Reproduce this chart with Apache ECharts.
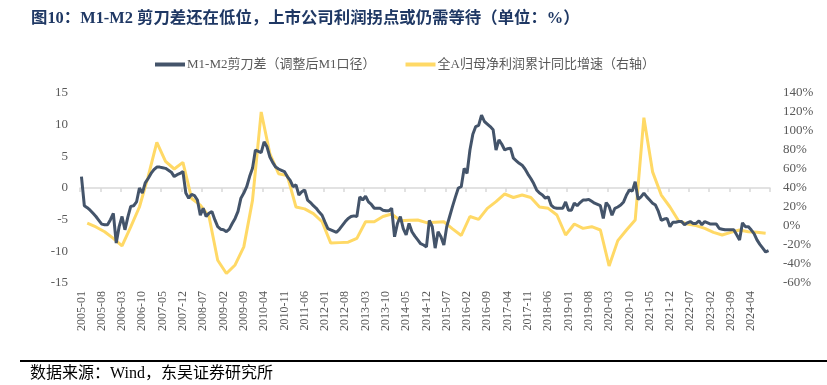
<!DOCTYPE html>
<html>
<head>
<meta charset="utf-8">
<script src="https://cdn.jsdelivr.net/npm/echarts@6/dist/echarts.min.js"></script>
<style>
html,body{margin:0;padding:0;background:#fff;}
#chart{width:827px;height:385px;}
</style>
</head>
<body>
<div id="chart"></div>
<script>
// ---- Data ----
const startYear = 2005;
const monthCount = 238; // 2005-01 .. 2024-10
const categories = [];
for (let i = 0; i < monthCount; i++) {
  const y = startYear + Math.floor(i / 12);
  const m = (i % 12) + 1;
  categories.push(y + '-' + (m < 10 ? '0' + m : m));
}

// M1-M2 scissors gap (adjusted M1), monthly, %
const m1m2Gap = [
  1.8,-2.8,-3.1,-3.5,-4.0,-4.5,-5.1,-5.7,-5.8,-5.8,
  -5.0,-4.0,-8.7,-6.1,-4.5,-6.6,-4.6,-2.9,-2.8,-2.2,
  0.0,-0.8,0.8,1.5,2.3,2.9,3.3,3.3,3.2,3.1,
  2.8,2.5,1.8,2.1,2.3,2.6,-0.8,-1.6,-1.0,-1.2,
  -1.9,-4.3,-3.2,-4.5,-4.0,-3.7,-5.0,-6.1,-6.5,-6.6,
  -6.9,-6.5,-5.6,-4.8,-3.7,-1.6,-0.8,0.2,1.8,3.1,
  6.0,5.8,5.6,7.3,6.5,4.9,4.0,3.3,3.0,2.8,
  2.6,1.8,1.2,0.2,0.5,-1.1,-0.6,-0.3,-1.9,-2.3,
  -2.8,-3.2,-3.8,-4.3,-5.4,-6.4,-6.6,-6.8,-7.0,-6.5,
  -5.9,-5.3,-4.8,-4.5,-4.4,-4.5,-1.4,-1.9,-1.3,-2.2,
  -2.6,-3.2,-3.2,-3.2,-3.5,-3.6,-3.6,-3.2,-7.7,-5.6,
  -4.5,-6.4,-7.4,-5.6,-6.9,-7.6,-8.2,-8.8,-9.0,-9.3,
  -5.1,-6.1,-9.5,-6.9,-7.7,-9.0,-6.1,-4.5,-2.9,-1.4,
  0.0,0.2,3.1,2.3,6.0,8.5,9.7,9.9,11.5,10.5,
  10.1,9.7,9.2,6.0,7.6,6.9,6.0,6.2,6.3,4.7,
  4.3,3.9,3.6,3.0,2.2,1.5,0.7,-0.3,-0.8,-1.1,
  -1.6,-1.4,-2.7,-3.1,-3.2,-3.2,-3.2,-2.2,-3.5,-3.5,
  -2.4,-2.8,-2.3,-1.9,-1.9,-1.8,-2.1,-2.4,-2.6,-2.8,
  -4.8,-2.3,-2.9,-4.3,-3.2,-3.0,-2.7,-2.2,-1.1,-0.3,
  -0.5,1.0,-1.8,-1.4,-0.8,-1.4,-1.9,-2.4,-2.7,-3.7,
  -5.1,-4.9,-4.8,-6.1,-5.4,-5.4,-5.3,-5.3,-5.8,-5.5,
  -5.3,-5.6,-5.6,-5.2,-5.8,-5.3,-5.5,-5.7,-5.7,-5.7,
  -6.4,-6.5,-6.6,-6.6,-6.6,-6.6,-7.4,-8.2,-5.5,-6.1,
  -6.1,-6.6,-7.2,-8.2,-8.9,-9.5,-10.1,-9.9
];

// All-A net profit attributable to parent, cumulative YoY, quarterly from 2005-03 to 2024-09, %
const profitFirstMonthIndex = 2; // 2005-03
const profitQuarterly = [
  3,-1,-6,-13,-21,-1,20,52,88,68,
  60,67,29,22,10,-36,-50,-41,-22,27,
  120,76,55,53,20,18,13,4.5,-18,-17.5,
  -17,-13,4.5,4.5,10,12.6,5.6,6,6.3,3.5,
  4,4.5,-3,-10,10,7,18.6,25.6,33.7,30,
  32.6,30,20,18.6,11.6,-9.5,2.1,-2.5,-0.7,-4.2,
  -42,-15.4,-4.2,6.3,114,57,32.6,20,5.3,2.1,
  0.4,-2.5,-6.7,-9.5,-6.7,-4.2,-6,-6.7,-7.7
];

const leftTicks = { min: -15, max: 15, interval: 5 };
const rightTicks = { min: -60, max: 140, interval: 20 };
const labelEvery = 7;

const seriesNames = ['M1-M2剪刀差（调整后M1口径）', '全A归母净利润累计同比增速（右轴）'];
const titleText = '图10：M1-M2 剪刀差还在低位，上市公司利润拐点或仍需等待（单位：%）';
const sourceText = '数据来源：Wind，东吴证券研究所';

// ---- Build ----
const profitMonthly = categories.map(() => null);
profitQuarterly.forEach((v, k) => { profitMonthly[profitFirstMonthIndex + 3 * k] = v; });

const FONT = "'Liberation Serif', 'Noto Sans CJK SC', serif";
const BLUE = '#44546A';
const YELLOW = '#FFD966';
const GREY = '#595959';
const AXIS_GREY = '#D9D9D9';

const chart = echarts.init(document.getElementById('chart'), null, { renderer: 'canvas' });
chart.setOption({
  animation: false,
  backgroundColor: '#fff',
  title: {
    text: titleText,
    left: 26, top: 6,
    textStyle: { fontSize: 16.4, fontWeight: 'bold', color: '#1F3864', fontFamily: FONT }
  },
  legend: {
    top: 53, left: 150,
    itemWidth: 30, itemHeight: 4, itemGap: 30,
    icon: 'rect',
    textStyle: { fontSize: 13, color: GREY, fontFamily: FONT, padding: [0, 0, 0, -3] },
    data: [
      { name: seriesNames[0], itemStyle: { color: BLUE } },
      { name: seriesNames[1], itemStyle: { color: YELLOW } }
    ]
  },
  grid: { left: 80, right: 57, top: 93, bottom: 102, containLabel: false },
  xAxis: [
    {
      type: 'category', data: categories, position: 'bottom', boundaryGap: true,
      axisLine: { show: true, onZero: true, onZeroAxisIndex: 0, lineStyle: { color: AXIS_GREY, width: 1.5 } },
      axisTick: { show: true, length: 4, interval: (i) => i % labelEvery === 0, lineStyle: { color: AXIS_GREY, width: 1.5 } },
      axisLabel: { show: false },
      splitLine: { show: false }
    },
    {
      type: 'category', data: categories, position: 'bottom', boundaryGap: true,
      axisLine: { show: false, onZero: false },
      axisTick: { show: false },
      axisLabel: {
        show: true, rotate: 90, margin: 8, fontSize: 12, color: GREY, fontFamily: FONT,
        interval: (i) => i % labelEvery === 0
      },
      splitLine: { show: false }
    }
  ],
  yAxis: [
    {
      type: 'value', min: leftTicks.min, max: leftTicks.max, interval: leftTicks.interval,
      axisLine: { show: false }, axisTick: { show: false }, splitLine: { show: false },
      axisLabel: { fontSize: 13, color: GREY, fontFamily: FONT, margin: 12 }
    },
    {
      type: 'value', min: rightTicks.min, max: rightTicks.max, interval: rightTicks.interval,
      axisLine: { show: false }, axisTick: { show: false }, splitLine: { show: false },
      axisLabel: { fontSize: 13, color: GREY, fontFamily: FONT, margin: 13, formatter: '{value}%' }
    }
  ],
  series: [
    {
      name: seriesNames[1], type: 'line', xAxisIndex: 0, yAxisIndex: 1,
      data: profitMonthly, connectNulls: true, showSymbol: false, symbol: 'none',
      lineStyle: { color: YELLOW, width: 3 }, itemStyle: { color: YELLOW }, z: 2
    },
    {
      name: seriesNames[0], type: 'line', xAxisIndex: 0, yAxisIndex: 0,
      data: m1m2Gap, showSymbol: false, symbol: 'none',
      lineStyle: { color: BLUE, width: 3 }, itemStyle: { color: BLUE }, z: 3
    }
  ],
  graphic: [
    { type: 'rect', left: 20, top: 360, shape: { width: 807, height: 2 }, style: { fill: '#000' } },
    { type: 'text', left: 30, top: 366, style: { text: sourceText, fontSize: 16, fill: '#000', fontFamily: FONT } }
  ]
});
</script>
</body>
</html>
